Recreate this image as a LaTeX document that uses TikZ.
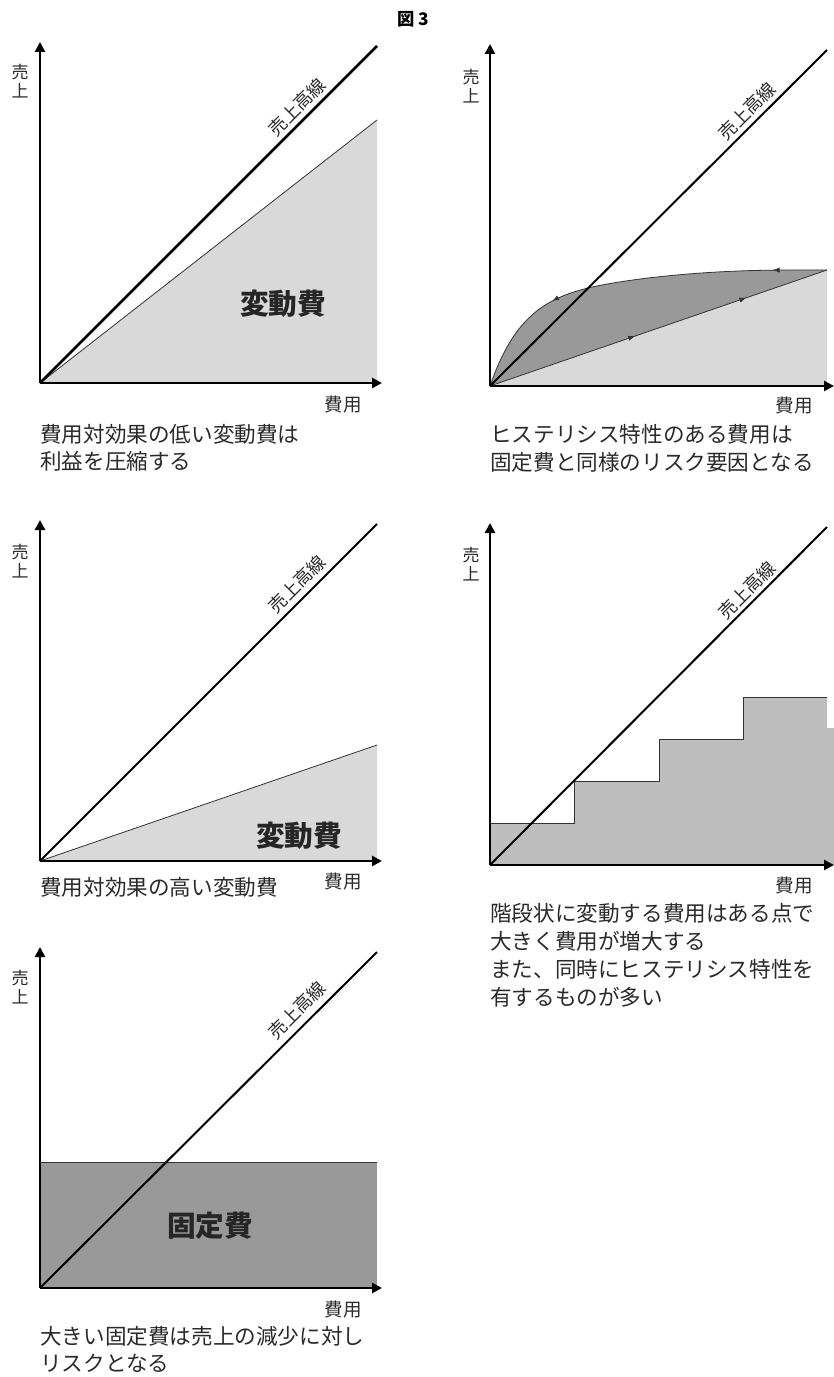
\documentclass[tikz,border=0pt]{standalone}
\usepackage{fontspec}
\setmainfont{Noto Sans CJK JP}
\usetikzlibrary{arrows.meta,decorations.markings}
\definecolor{lightfill}{HTML}{D9D9D9}
\definecolor{darkfill}{HTML}{999999}
\definecolor{stepfill}{HTML}{BEBEBE}
\definecolor{txt}{HTML}{2A2A2A}
\tikzset{
  tipH/.tip={Latex[length=5pt,width=4pt]},
  axis/.style={line width=2pt,-{Triangle[length=7.5pt,width=7.5pt]}},
  sales/.style={line width=1.5pt},
  salesthick/.style={line width=2pt},
  costline/.style={draw=black!80,line width=0.6pt},
  ylbl/.style={font=\fontsize{12.75pt}{14.25pt}\selectfont,text=txt,align=center,inner sep=0pt},
  xlbl/.style={font=\fontsize{13.9pt}{16pt}\selectfont,text=txt,inner sep=0pt},
  linelbl/.style={font=\fontsize{13.5pt}{16pt}\selectfont,text=txt,inner sep=0pt,rotate=45},
  captxt/.style={font=\fontsize{16.2pt}{20pt}\selectfont,text=txt,anchor=west,inner sep=0pt},
  bigtxt/.style={font=\fontsize{21.5pt}{24pt}\selectfont\bfseries,text=black!85,inner sep=0pt},
  arrowsat/.style 2 args={decoration={markings,
      mark=at position #1 with {\arrow{tipH}},
      mark=at position #2 with {\arrow{tipH}}},postaction=decorate},
}
\begin{document}
\begin{tikzpicture}[x=0.75pt,y=-0.75pt]
\useasboundingbox (0,0) rectangle (834,1377);
\fill[white] (0,0) rectangle (834,1377);

% title
\node[font=\fontsize{13pt}{15pt}\selectfont\bfseries,inner sep=0pt] (title) at (413,19) {図 3};

% ---------------- Panel 1 ----------------
\coordinate (o1) at (40,383);
\coordinate (y1) at (40,42);
\coordinate (x1) at (382,383);
\coordinate (s1) at (377,46);
\coordinate (v1) at (377,120);
\coordinate (b1) at (377,383);
\fill[lightfill] (o1) -- (v1) -- (b1) -- cycle;
\draw[costline] (o1) -- (v1);
\draw[salesthick] (o1) -- (s1);
\draw[axis] (o1) -- (y1);
\draw[axis] (o1) -- (x1);
\node[ylbl] (u1) at (20,81) {売\\上};
\node[xlbl] (c1) at (343,405) {費用};
\node[linelbl] (l1) at (297,107) {売上高線};
\node[bigtxt] (k1) at (283,304) {変動費};
\node[captxt] (t1a) at (40,434) {費用対効果の低い変動費は};
\node[captxt] (t1b) at (40,461) {利益を圧縮する};

% ---------------- Panel 2 ----------------
\coordinate (o2) at (490,386);
\coordinate (y2) at (490,44);
\coordinate (x2) at (834,386);
\coordinate (s2) at (827,50);
\coordinate (h2) at (827,270);
\coordinate (b2) at (827,386);
\fill[lightfill] (o2) -- (h2) -- (b2) -- cycle;
\fill[darkfill] (o2) .. controls (520,300) and (560,290) .. (640,279)
   .. controls (720,269) and (780,270) .. (h2) -- cycle;
\draw[costline,arrowsat={0.43}{0.76}] (o2) -- (h2);
\draw[costline,arrowsat={0.14}{0.72}] (h2) .. controls (780,270) and (720,269) .. (640,279)
   .. controls (560,290) and (520,300) .. (o2);
\draw[sales] (o2) -- (s2);
\draw[axis] (o2) -- (y2);
\draw[axis] (o2) -- (x2);
\node[ylbl] (u2) at (471,86) {売\\上};
\node[xlbl] (c2) at (794,406) {費用};
\node[linelbl] (l2) at (747,111) {売上高線};
\node[captxt] (t2a) at (490,434) {ヒステリシス特性のある費用は};
\node[captxt] (t2b) at (490,462) {固定費と同様のリスク要因となる};

% ---------------- Panel 3 ----------------
\coordinate (o3) at (40,861);
\coordinate (y3) at (40,520);
\coordinate (x3) at (382,861);
\coordinate (s3) at (377,524);
\coordinate (v3) at (377,745);
\coordinate (b3) at (377,861);
\fill[lightfill] (o3) -- (v3) -- (b3) -- cycle;
\draw[costline] (o3) -- (v3);
\draw[sales] (o3) -- (s3);
\draw[axis] (o3) -- (y3);
\draw[axis] (o3) -- (x3);
\node[ylbl] (u3) at (20,561) {売\\上};
\node[xlbl] (c3) at (343,881) {費用};
\node[linelbl] (l3) at (297,584) {売上高線};
\node[bigtxt] (k3) at (299,836) {変動費};
\node[captxt] (t3a) at (40,887) {費用対効果の高い変動費};

% ---------------- Panel 4 ----------------
\coordinate (o4) at (490,865);
\coordinate (y4) at (490,523);
\coordinate (x4) at (834,865);
\coordinate (s4) at (827,527);
\coordinate (b4) at (827,865);
\fill[stepfill] (827,728) rectangle (834,865);
\fill[stepfill] (o4) -- (490,823) -- (574,823) -- (574,781) -- (659,781) -- (659,739)
   -- (743,739) -- (743,697) -- (827,697) -- (b4) -- cycle;
\draw[costline] (o4) -- (490,823) -- (574,823) -- (574,781) -- (659,781) -- (659,739)
   -- (743,739) -- (743,697) -- (827,697);
\draw[sales] (o4) -- (s4);
\draw[axis] (o4) -- (y4);
\draw[axis] (o4) -- (x4);
\node[ylbl] (u4) at (471,564) {売\\上};
\node[xlbl] (c4) at (794,885) {費用};
\node[linelbl] (l4) at (747,590) {売上高線};
\node[captxt] (t4a) at (490,913) {階段状に変動する費用はある点で};
\node[captxt] (t4b) at (490,941) {大きく費用が増大する};
\node[captxt] (t4c) at (490,969) {また、同時にヒステリシス特性を};
\node[captxt] (t4d) at (490,997) {有するものが多い};

% ---------------- Panel 5 ----------------
\coordinate (o5) at (40,1288);
\coordinate (y5) at (40,947);
\coordinate (x5) at (382,1288);
\coordinate (s5) at (377,952);
\coordinate (f5) at (377,1162);
\fill[darkfill] (40,1162) rectangle (377,1288);
\draw[costline] (40,1162) -- (f5);
\draw[sales] (o5) -- (s5);
\draw[axis] (o5) -- (y5);
\draw[axis] (o5) -- (x5);
\node[ylbl] (u5) at (20,987) {売\\上};
\node[xlbl] (c5) at (343,1309) {費用};
\node[linelbl] (l5) at (297,1010) {売上高線};
\node[bigtxt] (k5) at (210,1226) {固定費};
\node[captxt] (t5a) at (40,1336) {大きい固定費は売上の減少に対し};
\node[captxt] (t5b) at (40,1363) {リスクとなる};
\end{tikzpicture}
\end{document}
